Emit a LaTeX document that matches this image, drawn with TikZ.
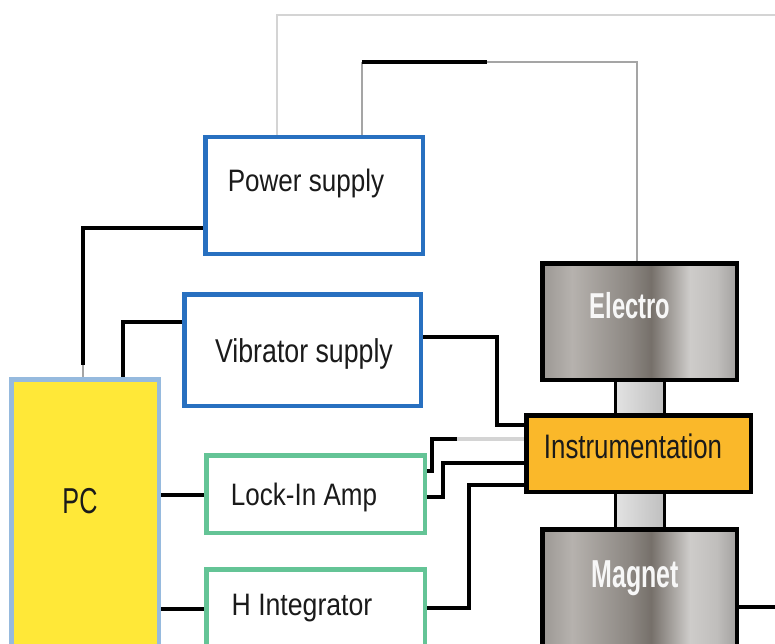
\documentclass[tikz,border=0pt]{standalone}
\usepackage{fontspec}
\setmainfont{Liberation Sans}
\usepackage{graphicx}
\definecolor{boxblue}{RGB}{40,112,192}
\definecolor{boxgreen}{RGB}{100,196,150}
\definecolor{pcyellow}{RGB}{255,232,56}
\definecolor{pcborder}{RGB}{150,186,222}
\definecolor{instr}{RGB}{250,184,42}
\definecolor{wiregray}{RGB}{165,165,165}
\definecolor{wirelight}{RGB}{212,212,212}
\definecolor{txt}{RGB}{26,26,26}
\definecolor{ma}{RGB}{156,152,148}
\definecolor{mb}{RGB}{182,178,174}
\definecolor{mc}{RGB}{140,135,130}
\definecolor{md}{RGB}{118,112,106}
\definecolor{me}{RGB}{206,204,202}
\definecolor{mf}{RGB}{192,190,188}
\definecolor{mg}{RGB}{164,162,160}
\pgfdeclarehorizontalshading{metal}{100bp}{color(0bp)=(ma); color(25bp)=(ma); color(32.5bp)=(mb); color(47.5bp)=(mc); color(53bp)=(md); color(63bp)=(me); color(70bp)=(mf); color(75bp)=(mg); color(100bp)=(mg)}
\tikzset{
  boxbase/.style={rectangle, inner sep=0pt, line width=3pt},
  bluebox/.style={boxbase, draw=boxblue, fill=white},
  greenbox/.style={boxbase, draw=boxgreen, fill=white},
  metalbox/.style={boxbase, draw=black, shading=metal},
  colbox/.style={rectangle, inner sep=0pt, line width=3pt, draw=black, left color=gray!22, right color=gray!50},
  wire/.style={line width=3.2pt, black},
  thinwire/.style={line width=1.5pt, wiregray},
  lbl/.style={anchor=base, inner sep=0pt, text=txt, font=\fontsize{31}{34}\selectfont},
  wlbl/.style={anchor=base, inner sep=0pt, text=white!94!gray, font=\fontsize{36}{40}\selectfont\bfseries},
}
\newcommand{\nrw}[2]{\scalebox{#1}[1]{#2}}
\begin{document}
\begin{tikzpicture}[x=1pt,y=-1pt]
\useasboundingbox (0,0) rectangle (775,644);
\clip (0,0) rectangle (775,644);
\fill[white] (0,0) rectangle (775,644);
% boxes (drawn as nodes, centred)
\node[bluebox, minimum width=216pt, minimum height=115pt] (power) at (314,195.5) {};
\node[bluebox, minimum width=235pt, minimum height=110pt] (vib) at (302.5,350) {};
\node[greenbox, minimum width=217pt, minimum height=76pt] (lock) at (315.5,494) {};
\node[greenbox, minimum width=217pt, minimum height=90pt] (hint) at (315.5,615) {};
\node[boxbase, draw=pcborder, fill=pcyellow, minimum width=146pt, minimum height=290pt] (pc) at (85,525) {};
\node[colbox, minimum width=49pt, minimum height=37pt] (col1) at (639.5,397.5) {};
\node[colbox, minimum width=49pt, minimum height=39pt] (col2) at (639.5,510.5) {};
\node[metalbox, minimum width=193pt, minimum height=115pt] (electro) at (639.5,321.5) {};
\node[metalbox, minimum width=193pt, minimum height=130pt] (magnet) at (639.5,595) {};
\node[boxbase, draw=black, fill=instr, minimum width=223pt, minimum height=75pt] (instr) at (638.5,453.5) {};
% connectors
\draw[line width=1.8pt, wirelight] (power.north -| 277,0) -- (277,15) -- (775,15);
\draw[thinwire] (power.north -| 362,0) -- (362,62);
\draw[wire] (362,62) -- (487,62);
\draw[thinwire] (487,62) -- (637,62) -- (electro.north -| 637,0);
\draw[wire] (power.west |- 0,228) -- (83,228) -- (83,365);
\draw[thinwire] (83,365) -- (pc.north -| 83,0);
\draw[wire] (vib.west |- 0,322) -- (123,322) -- (pc.north -| 123,0);
\draw[wire] (vib.east |- 0,337) -- (497,337) -- (497,425) -- (instr.west |- 0,425);
\draw[wire] (pc.east |- 0,495) -- (lock.west |- 0,495);
\draw[wire] (pc.east |- 0,609) -- (hint.west |- 0,609);
\draw[wire] (hint.east |- 0,608) -- (469,608) -- (469,485) -- (instr.west |- 0,485);
\draw[wire] (lock.east |- 0,497) -- (443,497) -- (443,463) -- (instr.west |- 0,463);
\draw[wire] (lock.east |- 0,471) -- (432,471) -- (432,439) -- (457,439);
\draw[line width=4pt, wirelight] (457,439) -- (instr.west |- 0,439);
\draw[wire] (magnet.east |- 0,607) -- (775,607);
% redraw box outlines on top of wire ends
\draw[line width=3pt, boxblue] (power.south west) rectangle (power.north east);
\draw[line width=3pt, boxblue] (vib.south west) rectangle (vib.north east);
\draw[line width=3pt, boxgreen] (lock.south west) rectangle (lock.north east);
\draw[line width=3pt, boxgreen] (hint.south west) rectangle (hint.north east);
\draw[line width=3pt, pcborder] (pc.south west) rectangle (pc.north east);
\draw[line width=3pt, black] (instr.south west) rectangle (instr.north east);
\draw[line width=3pt, black] (electro.south west) rectangle (electro.north east);
\draw[line width=3pt, black] (magnet.south west) rectangle (magnet.north east);
% labels
\node[lbl] (tpower) at (306,192) {\nrw{0.84}{Power supply}};
\node[lbl, font=\fontsize{33}{36}\selectfont] (tvib) at (304,362) {\nrw{0.81}{Vibrator supply}};
\node[lbl] (tlock) at (304,505) {\nrw{0.84}{Lock-In Amp}};
\node[lbl] (thint) at (302,615) {\nrw{0.86}{H Integrator}};
\node[lbl, font=\fontsize{34}{37}\selectfont] (tinstr) at (633,458) {\nrw{0.76}{Instrumentation}};
\node[lbl, font=\fontsize{36}{40}\selectfont] (tpc) at (80,513) {\nrw{0.7}{PC}};
\node[wlbl] (telectro) at (630,318) {\nrw{0.66}{Electro}};
\node[wlbl, font=\fontsize{39}{42}\selectfont\bfseries] (tmagnet) at (635,587) {\nrw{0.64}{Magnet}};
\end{tikzpicture}
\end{document}
